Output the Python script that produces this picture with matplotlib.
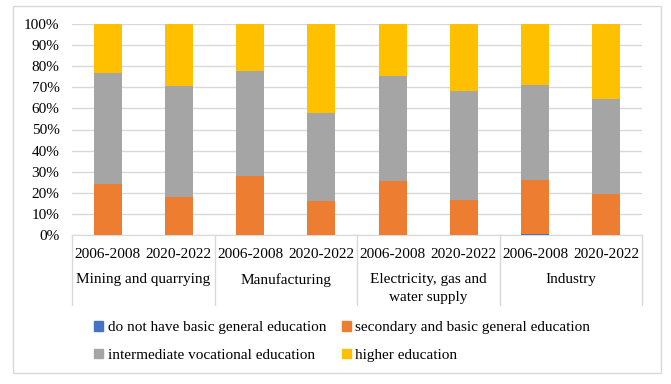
import numpy as np
import matplotlib.pyplot as plt
from matplotlib.patches import Rectangle
from matplotlib.lines import Line2D

plt.rcParams['font.family'] = ['Liberation Serif', 'DejaVu Serif']

# shares in percent
periods = ['2006-2008', '2020-2022'] * 4
groups = ['Mining and quarrying', 'Manufacturing', 'Electricity, gas and\nwater supply', 'Industry']
no_basic = [0.1, 0.1, 0.1, 0.1, 0.1, 0.1, 0.7, 0.2]
secondary = [24.3, 18.1, 28.0, 15.9, 25.3, 16.4, 25.6, 19.2]
vocational = [52.4, 52.6, 49.7, 41.8, 50.0, 51.8, 44.7, 45.0]
higher = [23.2, 29.2, 22.2, 42.2, 24.6, 31.7, 29.0, 35.6]
series_names = ['do not have basic general education', 'secondary and basic general education',
                'intermediate vocational education', 'higher education']
colors = ['#4472C4', '#ED7D31', '#A5A5A5', '#FFC000']

W, H = 671, 384
fs = 11
fig = plt.figure(figsize=(W / 100, H / 100), dpi=100)
ax = fig.add_axes([72 / W, (H - 235) / H, 570 / W, 211 / H])

x = np.arange(len(periods))
bottom = np.zeros(len(x))
for vals, c in zip([no_basic, secondary, vocational, higher], colors):
    ax.bar(x, vals, bottom=bottom, width=0.39, color=c, zorder=3)
    bottom += np.array(vals)

ax.set_xlim(-0.5, len(x) - 0.5)
ax.set_ylim(0, 100)
ax.set_yticks(np.arange(0, 101, 10))
ax.set_yticklabels([f'{v}%' for v in range(0, 101, 10)], fontsize=fs)
ax.yaxis.grid(True, color='#d9d9d9', linewidth=1)
ax.set_axisbelow(True)
ax.tick_params(axis='y', length=0, pad=9)
ax.set_xticks([])
for s in ['left', 'right', 'top']:
    ax.spines[s].set_visible(False)
ax.spines['bottom'].set_color('#d9d9d9')

# two-level category axis
depth = -70 / 211
for i, p in enumerate(periods):
    ax.text(i, -19 / 211 * 100, p, ha='center', va='center', fontsize=fs)
for g, name in enumerate(groups):
    ax.text(2 * g + 0.5, -38.5 / 211 * 100, name, ha='center', va='top', fontsize=fs,
            linespacing=1.45)
for b in range(5):
    xb = (2 * b) / len(x)
    ax.add_line(Line2D([xb, xb], [0, depth], transform=ax.transAxes, color='#d9d9d9',
                       linewidth=1, clip_on=False))

# legend, filled down columns so rows read blue/orange and gray/yellow
handles = [Rectangle((0, 0), 1, 1, color=c) for c in colors]
order = [0, 2, 1, 3]
fig.legend([handles[i] for i in order], [series_names[i] for i in order], ncol=2,
           loc='upper left', bbox_to_anchor=(94 / W, 1 - 321 / H), frameon=False,
           fontsize=fs, handlelength=0.6, handleheight=0.6, handletextpad=0.3,
           columnspacing=1.0, labelspacing=0.95, borderpad=0, borderaxespad=0)

fig.patches.append(Rectangle((13 / W, 1 - 373 / H), 648 / W, 367 / H, transform=fig.transFigure,
                             fill=False, edgecolor='#d9d9d9', linewidth=1))

fig.savefig('out.png', dpi=100)
